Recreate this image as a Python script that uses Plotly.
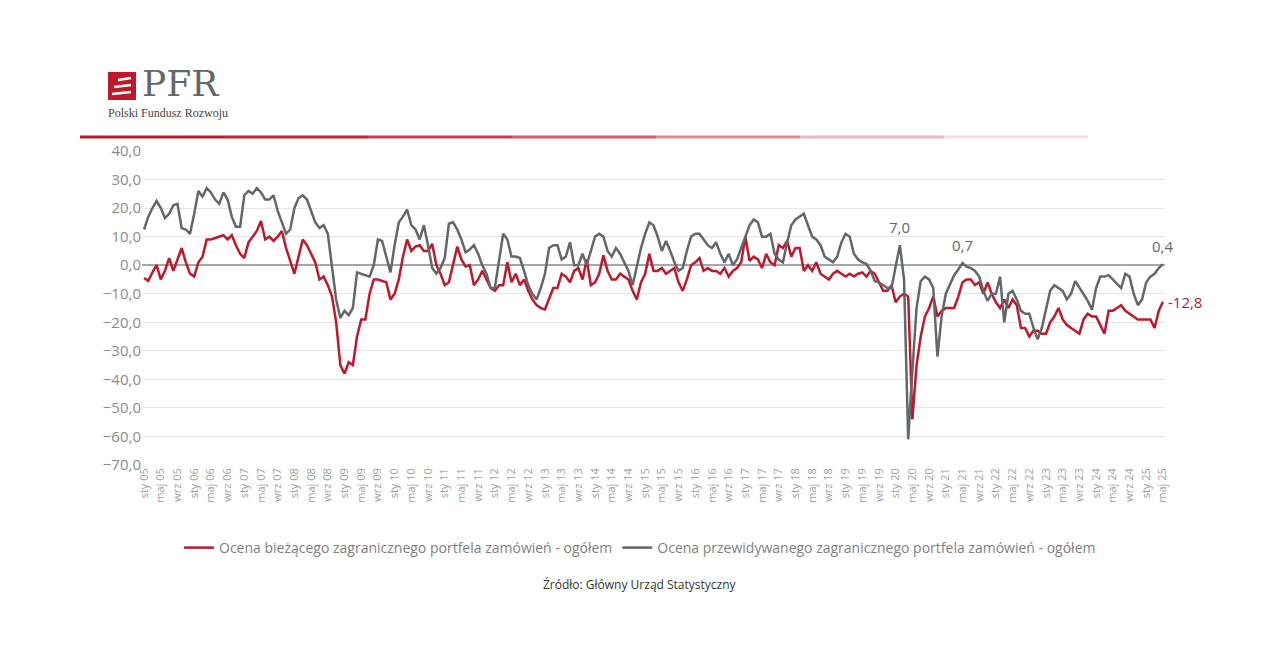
import plotly.graph_objects as go

# miesiące sty 2005 - maj 2025
miesiace = ['sty', 'lut', 'mar', 'kwi', 'maj', 'cze', 'lip', 'sie', 'wrz', 'paź', 'lis', 'gru']
lata = list(range(2005, 2026))

biezacy = [
    -4.5, -5.5, -2.5, 0, -5, -2, 2.5, -2, 2, 6, 1, -3,           # 2005
    -4, 1, 3, 9, 9, 9.5, 10, 10.5, 9, 10.5, 7, 4,                # 2006
    2.5, 8, 10, 12, 15.5, 9, 10, 8.5, 10, 12, 6, 1.5,            # 2007
    -3, 3, 9, 7, 4, 1, -5, -4, -7, -11, -20, -35,                # 2008
    -38, -34, -35, -25, -19, -19, -10, -5, -5, -5.5, -6, -12,    # 2009
    -10, -5, 3, 9, 5, 6.5, 7, 5, 5, 7.5, 0, -3,                  # 2010
    -7, -6, 0, 6.5, 2, -0.5, 0, -7, -5, -2, -5, -8,              # 2011
    -9, -7, -7, 1, -6, -3, -7, -5, -9, -12, -14, -15,            # 2012
    -15.5, -12, -8, -8, -3, -4, -6, -2, -1, -5, 2, -7,           # 2013
    -6, -3, 3.5, -2, -5, -5, -3, -4, -5, -9, -12, -6,            # 2014
    -3, 4, -2, -2, -1, -3, -2, -1, -6, -9, -5, 0,                # 2015
    1, 2.5, -2, -1, -2, -2, -3, -1, -4, -2, -1, 1,               # 2016
    10, 1.5, 3, 2, -1, 4, 1, 0, 7, 6, 8.5, 3,                    # 2017
    6, 6, -2, 0, -2, 1, -3, -4, -5, -3, -2, -3,                  # 2018
    -4, -3, -4, -3, -2.5, -4, -2, -3, -6, -9, -9, -7,            # 2019
    -13, -11, -10, -11, -54, -35, -25, -18, -15, -11, -18, -16,  # 2020
    -15, -15, -15, -11, -6, -5, -5, -7, -6, -10, -6, -10,        # 2021
    -13, -15, -12, -15, -12, -14, -22, -22, -25, -23, -23, -24,  # 2022
    -24, -20, -18, -15, -19, -21, -22, -23, -24, -19, -17, -18,  # 2023
    -18, -21, -24, -16, -16, -15, -14, -16, -17, -18, -19, -19,  # 2024
    -19, -19, -22, -16, -12.8,                                   # 2025
]

przewidywany = [
    12.5, 17, 20, 22.5, 20, 16.5, 18, 21, 21.5, 13, 12.5, 11,    # 2005
    18, 26, 24, 27, 25.5, 23, 21.5, 25.5, 23, 17, 13.5, 13.5,    # 2006
    24.5, 26, 25, 27, 25.5, 23, 23, 24.5, 19, 15, 11, 12.5,      # 2007
    20, 23.5, 24.5, 23, 19, 15, 13, 14, 11, 0, -12, -18.5,       # 2008
    -16, -17.5, -15, -2.5, -3, -3.5, -4, 0, 9, 8.5, 3, -2.5,     # 2009
    7, 15, 17, 19.5, 14, 12.5, 9, 14, 7, -1, -3, -1,             # 2010
    2.5, 14.5, 15, 12.5, 9, 4.5, 5.5, 7, 4, 0, -3, -8,           # 2011
    -8, 2, 11, 9, 3, 3, 2.5, -2, -7, -10, -12, -8,               # 2012
    -3, 6, 7, 7, 2, 3, 8, 0, 0, 4, 0, 5,                         # 2013
    10, 11, 10, 5, 3, 6, 4, 1, -2, -7, 0, 6,                     # 2014
    11, 15, 14, 10, 5, 8.5, 5, 1, -2, -1, 5, 10,                 # 2015
    11, 11, 9, 7, 6, 8, 4, 1, 4, 0, 2, 6,                        # 2016
    10, 14, 16, 15, 10, 10, 11, 4, 2, 1, 8, 14,                  # 2017
    16, 17, 18, 14, 10, 9, 7, 3, 2, 1, 3, 8,                     # 2018
    11, 10, 4, 2, 1, 0.5, -2, -5.6, -6, -7, -8, -8,              # 2019
    0, 7.0, -5, -61, -37, -15, -5.6, -4, -5, -8, -32, -18,       # 2020
    -10, -6.5, -3.5, -1.5, 0.7, -0.5, -1, -2, -4, -9, -12.5, -10,  # 2021
    -10, -4, -20, -10, -9, -12, -16, -17, -17, -22, -26, -22,    # 2022
    -15, -9, -7, -8, -9, -12, -10, -5.6, -8, -10, -12.5, -15.6,  # 2023
    -8, -4, -4, -3.5, -5, -6.5, -8, -3, -4, -10, -14, -12,       # 2024
    -6, -4, -3, -1, 0.4,                                         # 2025
]

etykiety = [f'{m} {str(r)[2:]}' for r in lata for m in miesiace][:len(biezacy)]

CZERWONY = '#c0182b'
SZARY = '#62676a'
FONT = 'Open Sans'

L, R, T, B = 134, 113, 143, 189
W, H = 1270 - L - R, 646 - T - B


def px(x):
    return (x - 8 - L) / W


def py(y):
    return 1 - (y - 8 - T) / H


fig = go.Figure()
fig.add_trace(go.Scatter(x=etykiety, y=biezacy, mode='lines',
                         name='Ocena bieżącego zagranicznego portfela zamówień - ogółem',
                         line=dict(color=CZERWONY, width=2.5)))
fig.add_trace(go.Scatter(x=etykiety, y=przewidywany, mode='lines',
                         name='Ocena przewidywanego zagranicznego portfela zamówień - ogółem',
                         line=dict(color=SZARY, width=2.5)))

# opisy wartości
for idx, txt in [(etykiety.index('lut 20'), '7,0'), (etykiety.index('maj 21'), '0,7'),
                 (len(etykiety) - 1, '0,4')]:
    fig.add_annotation(x=etykiety[idx], y=przewidywany[idx], text=txt, showarrow=False,
                       yshift=18, font=dict(family=FONT, size=15, color=SZARY))
fig.add_annotation(x=etykiety[-1], y=biezacy[-1], text='-12,8', showarrow=False,
                   xanchor='left', xshift=3, font=dict(family=FONT, size=15, color=CZERWONY))

# nagłówek PFR
fig.add_shape(type='rect', xref='paper', yref='paper', x0=px(108), x1=px(136), y0=py(100), y1=py(72),
              fillcolor=CZERWONY, line=dict(width=0))
for yy, x0 in [(79, 118), (86, 114), (93, 112)]:
    fig.add_shape(type='line', xref='paper', yref='paper', x0=px(x0), x1=px(131),
                  y0=py(yy + 1), y1=py(yy - 1), line=dict(color='white', width=2.5))
fig.add_annotation(xref='paper', yref='paper', x=px(140), y=py(84), xanchor='left', yanchor='middle',
                   text='PFR', showarrow=False,
                   font=dict(family='DejaVu Serif', size=36, color=SZARY))
fig.add_annotation(xref='paper', yref='paper', x=px(106), y=py(113), xanchor='left', yanchor='middle',
                   text='Polski Fundusz Rozwoju', showarrow=False,
                   font=dict(family='Liberation Serif', size=12, color='#444'))
for i, op in enumerate([1, 0.95, 0.85, 0.7, 0.5, 0.3, 0.15]):
    fig.add_shape(type='line', xref='paper', yref='paper',
                  x0=px(80 + i * 144), x1=px(80 + (i + 1) * 144), y0=py(137), y1=py(137),
                  line=dict(color=CZERWONY, width=3), opacity=op)

fig.add_annotation(xref='paper', yref='paper', x=px(640), y=py(595), text='Źródło: Główny Urząd Statystyczny',
                   showarrow=False, font=dict(family=FONT, size=12, color='#333'))

fig.update_layout(
    width=1270, height=646,
    margin=dict(l=L, r=R, t=T, b=B),
    paper_bgcolor='white', plot_bgcolor='white',
    separators=', ',
    font=dict(family=FONT, color='#8c8c8c'),
    showlegend=True,
    legend=dict(orientation='h', x=px(640), xanchor='center', y=py(548), yanchor='middle',
                font=dict(family=FONT, size=14, color='#7f7f7f')),
    xaxis=dict(type='category', tickangle=-90, tickvals=etykiety[::4], showgrid=False,
               tickfont=dict(size=11, color='#a0a0a0'), range=[-0.5, len(etykiety) - 0.5]),
    yaxis=dict(range=[-70, 40], dtick=10, tickformat='.1f', gridcolor='#e6e6e6',
               zeroline=True, zerolinecolor='#a6a6a6', zerolinewidth=1.5,
               tickfont=dict(size=15, color='#8c8c8c')),
)

fig.write_html('out.html')
